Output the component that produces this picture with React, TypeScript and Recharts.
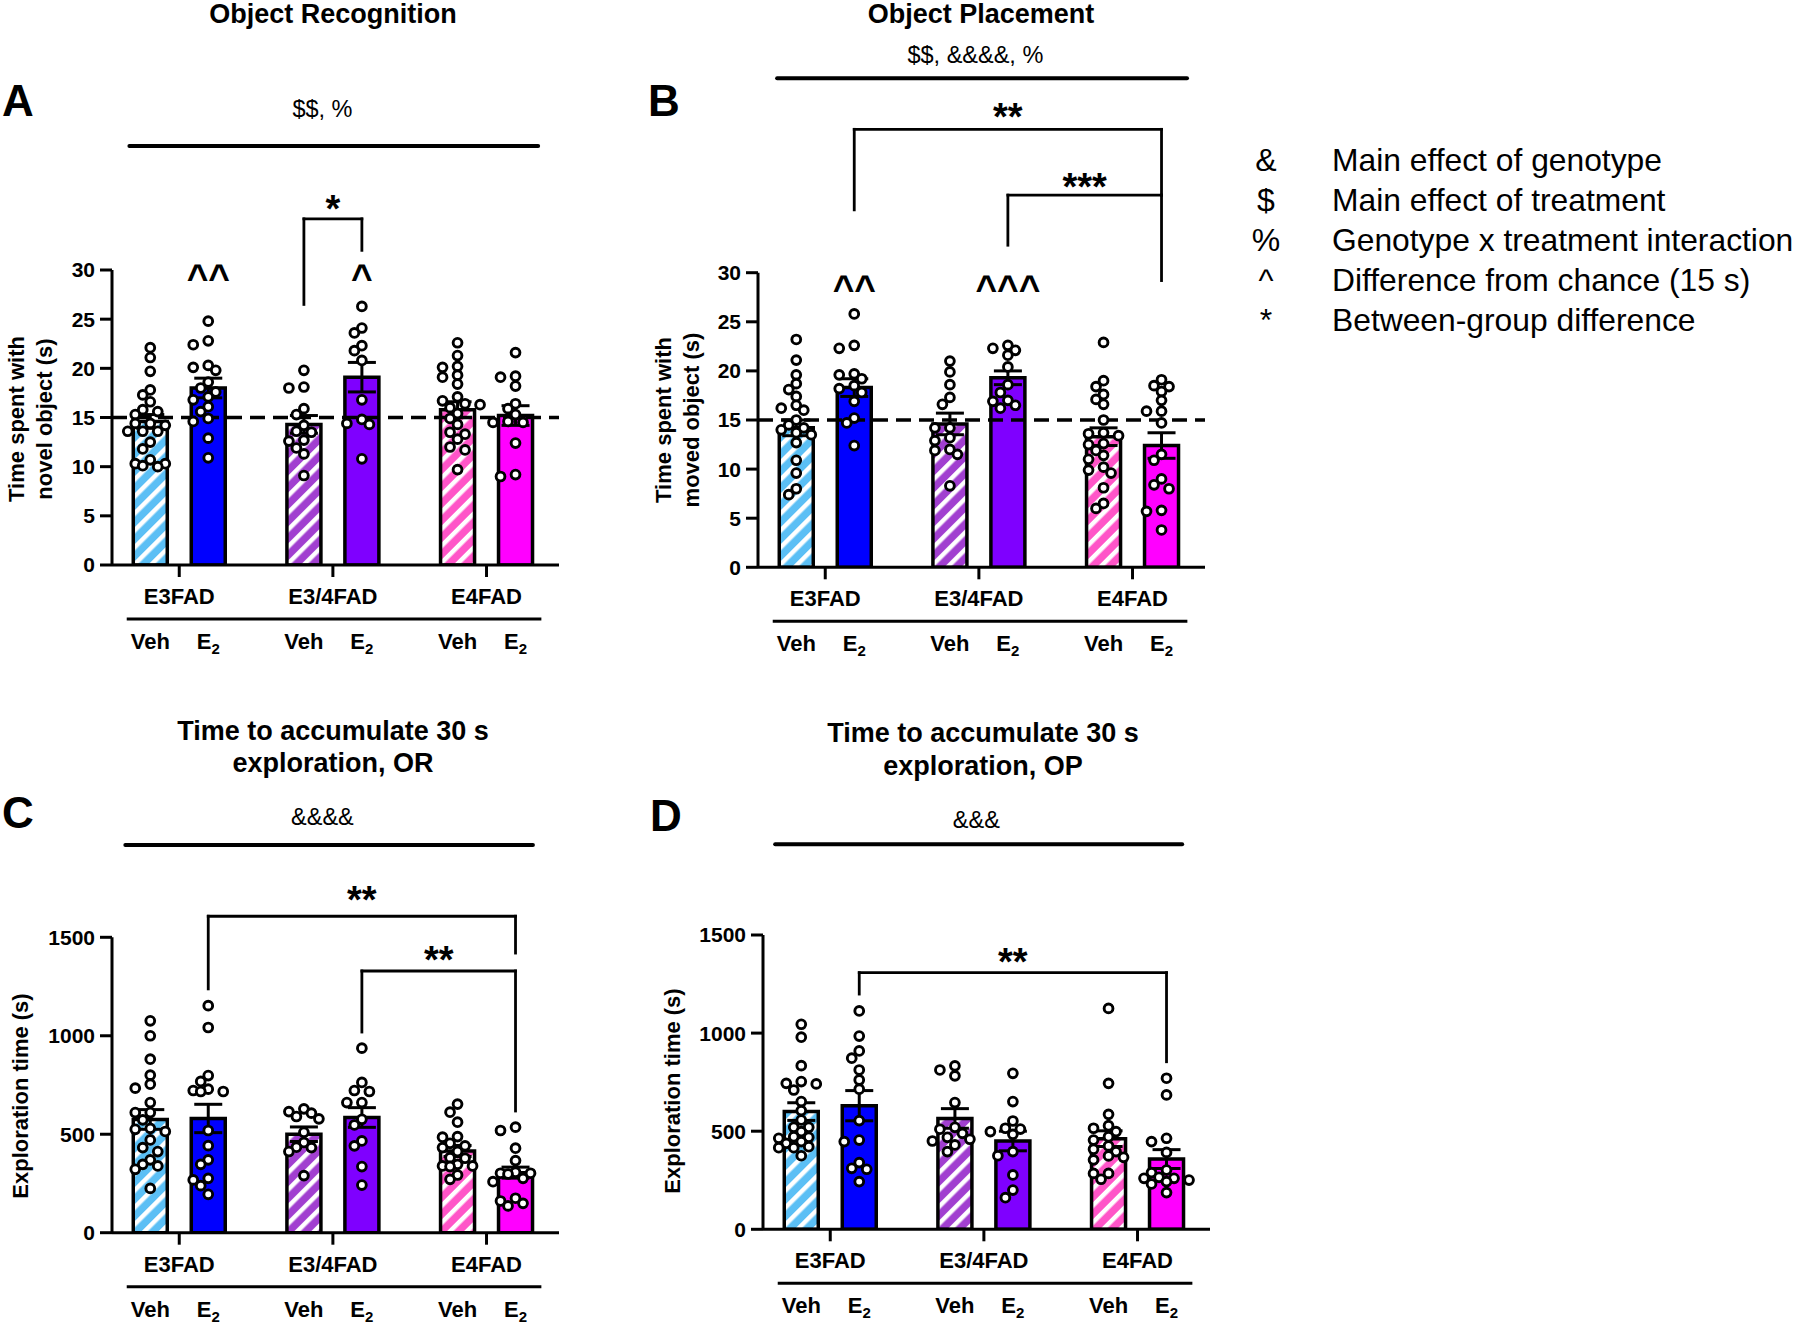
import React from 'react';
import {
  ComposedChart,
  Bar,
  Cell,
  ErrorBar,
  Scatter,
  XAxis,
  YAxis,
  ReferenceLine,
  ReferenceDot,
} from 'recharts';

const FONT = '"Liberation Sans", Arial, Helvetica, sans-serif';

const GENOTYPES = ['E3FAD', 'E3/4FAD', 'E4FAD'];
const TREATMENTS = ['Veh', 'E2'];
const BAR_COLORS = ['#5bbff5', '#0000ff', '#a13fd0', '#7f00ff', '#ff55c8', '#ff00ff'];
const HATCHED = [true, false, true, false, true, false];

// A - object recognition, time with novel object (s)
const OR_MEAN = [14.6, 18.0, 14.3, 19.1, 15.8, 15.2];
const OR_SEM = [0.7, 1.0, 0.9, 1.5, 0.8, 1.0];
const OR_POINTS = [
  [22.1, 21.1, 19.7, 17.8, 17.3, 16.6, 15.8, 15.6, 15.3, 14.4, 14.4, 14.2, 13.6, 13.6, 13.6, 12.5, 11.8, 10.7, 10.3, 10.3, 10.1, 10.0],
  [24.8, 22.8, 22.4, 20.3, 20.1, 19.8, 18.6, 18.0, 17.6, 17.1, 16.8, 16.1, 15.6, 14.9, 14.6, 12.9, 10.9],
  [19.8, 18.1, 18.0, 15.9, 15.3, 14.2, 13.6, 13.5, 12.7, 12.6, 11.9, 11.3, 9.1],
  [26.3, 24.1, 23.6, 22.3, 21.8, 20.8, 16.8, 14.8, 14.4, 14.3, 10.8],
  [22.6, 21.3, 20.2, 20.1, 19.3, 19.1, 18.4, 17.1, 16.7, 16.4, 16.3, 16.0, 15.4, 14.9, 14.3, 13.5, 13.3, 12.8, 12.0, 11.7, 9.7],
  [21.6, 19.2, 19.1, 18.2, 16.4, 15.9, 15.3, 14.6, 14.5, 14.5, 12.4, 9.2, 9.0],
];

// B - object placement, time with moved object (s)
const OP_MEAN = [14.2, 18.3, 14.6, 19.3, 13.3, 12.4];
const OP_SEM = [0.8, 0.9, 1.1, 0.7, 0.9, 1.3];
const OP_POINTS = [
  [23.2, 21.1, 19.6, 18.7, 18.1, 17.4, 16.5, 16.2, 16.0, 15.0, 14.5, 14.2, 14.0, 13.7, 13.5, 12.7, 10.9, 9.6, 8.0, 7.4],
  [25.8, 22.6, 22.3, 19.7, 19.6, 19.2, 18.5, 18.2, 17.8, 16.9, 15.2, 14.7, 12.4],
  [21.0, 19.9, 18.6, 17.3, 16.6, 14.2, 14.2, 13.2, 12.9, 12.0, 11.9, 11.5, 8.3],
  [22.6, 22.3, 22.1, 21.6, 20.4, 18.6, 17.8, 17.0, 16.9, 16.5, 16.2],
  [22.9, 19.0, 18.4, 17.6, 17.1, 16.6, 15.0, 13.7, 13.6, 13.4, 12.6, 12.5, 11.9, 11.4, 11.0, 10.2, 9.9, 9.6, 8.1, 6.5, 6.0],
  [19.1, 18.5, 18.4, 17.9, 17.0, 15.9, 15.9, 14.7, 11.5, 10.9, 9.0, 8.4, 8.0, 5.8, 5.7, 3.8],
];

// C - time to accumulate 30 s exploration, OR
const OR_TIME_MEAN = [575, 580, 500, 585, 415, 305];
const OR_TIME_SEM = [50, 72, 37, 50, 28, 28];
const OR_TIME_POINTS = [
  [1076, 1000, 881, 800, 754, 734, 661, 610, 610, 573, 530, 525, 514, 471, 432, 412, 370, 347, 339, 322, 225],
  [1153, 1042, 798, 768, 729, 722, 717, 717, 519, 442, 370, 347, 276, 268, 239, 195],
  [629, 615, 607, 590, 578, 510, 458, 434, 432, 412, 290],
  [937, 763, 722, 717, 661, 661, 576, 547, 466, 441, 336, 242],
  [653, 612, 561, 488, 485, 454, 441, 432, 412, 381, 378, 347, 339, 339, 336, 293, 271],
  [536, 519, 429, 366, 307, 302, 302, 298, 276, 259, 175, 161, 149, 136],
];

// D - time to accumulate 30 s exploration, OP
const OP_TIME_MEAN = [600, 630, 565, 450, 462, 358];
const OP_TIME_SEM = [45, 77, 50, 50, 40, 48];
const OP_TIME_POINTS = [
  [1045, 979, 834, 753, 744, 741, 710, 651, 605, 557, 520, 520, 498, 472, 469, 464, 447, 438, 421, 416, 416, 375],
  [1113, 985, 909, 872, 812, 761, 714, 554, 455, 447, 340, 311, 306, 243],
  [833, 812, 782, 646, 520, 510, 489, 469, 459, 450, 430, 396],
  [795, 651, 552, 515, 511, 498, 484, 396, 375, 277, 200, 161],
  [1126, 744, 586, 528, 515, 498, 472, 455, 425, 408, 396, 374, 367, 354, 285, 285, 255],
  [770, 685, 464, 447, 392, 302, 289, 265, 260, 260, 251, 243, 231, 187],
];

const LEGEND = [
  ['&', 'Main effect of genotype'],
  ['$', 'Main effect of treatment'],
  ['%', 'Genotype x treatment interaction'],
  ['^', 'Difference from chance (15 s)'],
  ['*', 'Between-group difference'],
];

const GROUP_GAP = 2.65;
const X_DOMAIN: [number, number] = [-0.66, 7.05];
const PLOT_W = 447;
const UNIT_PX = PLOT_W / (X_DOMAIN[1] - X_DOMAIN[0]);
const BAR_POS = [0, 1, 2, 3, 4, 5].map((i) => Math.floor(i / 2) * GROUP_GAP + (i % 2));
const GROUP_POS = [0, 1, 2].map((g) => g * GROUP_GAP + 0.5);

// simple beeswarm, columns every 7.5px, at most 3 columns each side
function swarm(values: number[], pxPerUnit: number) {
  const order = values.map((_, i) => i).sort((a, b) => values[b] - values[a]);
  const placed: { dx: number; y: number }[] = [];
  const offs = new Array(values.length).fill(0);
  for (const i of order) {
    const y = values[i] * pxPerUnit;
    let best = 0;
    let bestGap = -1;
    for (const k of [0, -1, 1, -2, 2, -3, 3]) {
      const dx = k * 7.5;
      const gap = placed.length ? Math.min(...placed.map((p) => Math.hypot(p.dx - dx, p.y - y))) : 99;
      if (gap >= 8.6) {
        best = dx;
        bestGap = gap;
        break;
      }
      if (gap > bestGap) {
        bestGap = gap;
        best = dx;
      }
    }
    placed.push({ dx: best, y });
    offs[i] = best / UNIT_PX;
  }
  return offs;
}

type Bracket = { from: number; to: number; y: number; y1: number; y2: number; text: string; ty: number };
type Caret = { bar: number; text: string; y: number };

interface PanelProps {
  left: number;
  top: number;
  height: number;
  plotTop: number;
  plotBottom: number;
  yMax: number;
  yTicks: number[];
  mean: number[];
  sem: number[];
  points: number[][];
  header: { x1: number; x2: number; y: number; text: string; tx: number; ty: number };
  brackets: Bracket[];
  carets: Caret[];
  chance?: number;
}

const GroupTick = (props: any) => {
  const { x, y, payload } = props;
  const g = Math.round((payload.value - 0.5) / GROUP_GAP);
  return (
    <text x={x} y={y + 27} textAnchor="middle" fontSize={22} fontWeight={700} fontFamily={FONT} fill="#000">
      {GENOTYPES[g]}
    </text>
  );
};

const TreatTick = (props: any) => {
  const { x, y, payload } = props;
  const i = BAR_POS.findIndex((b) => Math.abs(b - payload.value) < 0.01);
  const isE2 = TREATMENTS[i % 2] === 'E2';
  return (
    <text x={x} y={y + 30} textAnchor="middle" fontSize={22} fontWeight={700} fontFamily={FONT} fill="#000">
      {isE2 ? (
        <>
          <tspan>E</tspan>
          <tspan fontSize={15} dy={5}>2</tspan>
        </>
      ) : (
        'Veh'
      )}
    </text>
  );
};

const Dot = (props: any) => (
  <circle cx={props.cx} cy={props.cy} r={4.4} fill="#fff" stroke="#000" strokeWidth={2.9} />
);

function Panel(p: PanelProps) {
  const plotH = p.plotBottom - p.plotTop;
  const pxPerUnit = plotH / p.yMax;
  const bars = p.mean.map((m, i) => ({ x: BAR_POS[i], mean: m, sem: p.sem[i] }));
  const dots = p.points.flatMap((vals, i) => {
    const o = swarm(vals, pxPerUnit);
    return vals.map((v, j) => ({ x: BAR_POS[i] + o[j], v }));
  });
  const marginTop = p.plotTop - p.top;
  const marginBottom = p.height - marginTop - plotH - 92;
  const sepY = -54 / pxPerUnit;
  const line = { stroke: '#000', strokeWidth: 2.8, strokeLinecap: 'square' as const, ifOverflow: 'visible' as const };
  const starLabel = (text: string, size: number, bold: boolean) => ({
    value: text,
    position: 'center' as const,
    fill: '#000',
    fontSize: size,
    fontWeight: bold ? 700 : 400,
    fontFamily: FONT,
  });

  return (
    <div style={{ position: 'absolute', left: p.left, top: p.top }}>
      <ComposedChart
        width={600}
        height={p.height}
        data={bars}
        margin={{ top: marginTop, right: 41, bottom: marginBottom, left: 12 }}
      >
        <XAxis
          xAxisId={0}
          dataKey="x"
          type="number"
          domain={X_DOMAIN}
          allowDataOverflow
          ticks={GROUP_POS}
          interval={0}
          height={54}
          tickSize={12}
          tickMargin={0}
          axisLine={{ stroke: '#000', strokeWidth: 3 }}
          tickLine={{ stroke: '#000', strokeWidth: 3 }}
          tick={<GroupTick />}
        />
        <XAxis
          xAxisId="trt"
          dataKey="x"
          type="number"
          domain={X_DOMAIN}
          allowDataOverflow
          ticks={BAR_POS}
          interval={0}
          height={38}
          tickSize={0}
          tickMargin={0}
          axisLine={false}
          tickLine={false}
          tick={<TreatTick />}
        />
        <YAxis
          type="number"
          domain={[0, p.yMax]}
          allowDataOverflow
          ticks={p.yTicks}
          interval={0}
          width={100}
          tickSize={12}
          tickMargin={5}
          axisLine={{ stroke: '#000', strokeWidth: 3 }}
          tickLine={{ stroke: '#000', strokeWidth: 3 }}
          tick={{ fill: '#000', fontSize: 21, fontWeight: 700, fontFamily: FONT }}
        />
        <Bar dataKey="mean" barSize={34} stroke="#000" strokeWidth={3.5} isAnimationActive={false}>
          {bars.map((_, i) => (
            <Cell key={i} fill={HATCHED[i] ? `url(#hatch${i})` : BAR_COLORS[i]} />
          ))}
          <ErrorBar dataKey="sem" width={14} stroke="#000" strokeWidth={3} direction="y" />
        </Bar>
        {p.chance !== undefined && (
          <ReferenceLine y={p.chance} stroke="#000" strokeWidth={3.5} strokeDasharray="15 8" />
        )}
        <Scatter xAxisId="trt" data={dots} dataKey="v" shape={<Dot />} isAnimationActive={false} />

        {/* group separator line under genotype labels */}
        <ReferenceLine segment={[{ x: -0.38, y: sepY }, { x: 6.72, y: sepY }]} {...line} strokeWidth={3} />

        {/* header line with ANOVA effects */}
        <ReferenceLine
          segment={[{ x: p.header.x1, y: p.header.y }, { x: p.header.x2, y: p.header.y }]}
          {...line}
          strokeWidth={4}
          strokeLinecap="round"
        />
        <ReferenceDot
          x={p.header.tx}
          y={p.header.ty}
          r={0.01}
          fill="none"
          stroke="none"
          ifOverflow="visible"
          label={starLabel(p.header.text, 23.5, false)}
        />

        {p.brackets.map((b, k) => [
          <ReferenceLine
            key={`h${k}`}
            segment={[{ x: BAR_POS[b.from], y: b.y }, { x: BAR_POS[b.to], y: b.y }]}
            {...line}
          />,
          <ReferenceLine
            key={`l${k}`}
            segment={[{ x: BAR_POS[b.from], y: b.y }, { x: BAR_POS[b.from], y: b.y1 }]}
            {...line}
          />,
          <ReferenceLine
            key={`r${k}`}
            segment={[{ x: BAR_POS[b.to], y: b.y }, { x: BAR_POS[b.to], y: b.y2 }]}
            {...line}
          />,
          <ReferenceDot
            key={`t${k}`}
            x={(BAR_POS[b.from] + BAR_POS[b.to]) / 2}
            y={b.ty}
            r={0.01}
            fill="none"
            stroke="none"
            ifOverflow="visible"
            label={starLabel(b.text, 38, true)}
          />,
        ])}

        {p.carets.map((c, k) => (
          <ReferenceDot
            key={`c${k}`}
            x={BAR_POS[c.bar]}
            y={c.y}
            r={0.01}
            fill="none"
            stroke="none"
            ifOverflow="visible"
            label={starLabel(c.text, 37, true)}
          />
        ))}
      </ComposedChart>
    </div>
  );
}

const textAt = (x: number, y: number, style: React.CSSProperties, content: React.ReactNode, key?: string) => (
  <div
    key={key}
    style={{
      position: 'absolute',
      left: x,
      top: y,
      transform: 'translate(-50%, -50%)',
      whiteSpace: 'nowrap',
      fontFamily: FONT,
      color: '#000',
      ...style,
    }}
  >
    {content}
  </div>
);

const yLabel = (x: number, y: number, lines: string[]) => (
  <div
    style={{
      position: 'absolute',
      left: x,
      top: y,
      transform: 'translate(-50%, -50%) rotate(-90deg)',
      whiteSpace: 'nowrap',
      fontFamily: FONT,
      fontWeight: 700,
      fontSize: 22,
      lineHeight: '28px',
      textAlign: 'center',
      color: '#000',
    }}
  >
    {lines.map((l) => (
      <div key={l}>{l}</div>
    ))}
  </div>
);

export default function App() {
  const title = { fontSize: 27, fontWeight: 700 };
  const letter = { fontSize: 44, fontWeight: 700 };
  return (
    <div
      style={{
        position: 'absolute',
        left: 0,
        top: 0,
        width: 1800,
        height: 1326,
        overflow: 'hidden',
        background: '#fff',
        fontFamily: FONT,
      }}
    >
      <svg width={0} height={0} style={{ position: 'absolute' }}>
        <defs>
          {BAR_COLORS.map((c, i) =>
            HATCHED[i] ? (
              <pattern
                key={i}
                id={`hatch${i}`}
                width={12}
                height={12}
                patternUnits="userSpaceOnUse"
                patternTransform="rotate(45)"
              >
                <rect width={12} height={12} fill={c} />
                <rect width={4.5} height={12} fill="#fff" />
              </pattern>
            ) : null
          )}
        </defs>
      </svg>

      {textAt(333, 14, title, 'Object Recognition')}
      {textAt(981, 14, title, 'Object Placement')}
      {textAt(333, 731, title, 'Time to accumulate 30 s')}
      {textAt(333, 763, title, 'exploration, OR')}
      {textAt(983, 733, title, 'Time to accumulate 30 s')}
      {textAt(983, 766, title, 'exploration, OP')}

      {textAt(18, 101, letter, 'A')}
      {textAt(664, 101, letter, 'B')}
      {textAt(18, 813, letter, 'C')}
      {textAt(666, 816, letter, 'D')}

      {yLabel(31, 419, ['Time spent with', 'novel object (s)'])}
      {yLabel(678, 420, ['Time spent with', 'moved object (s)'])}
      {yLabel(21, 1096, ['Exploration time (s)'])}
      {yLabel(673, 1091, ['Exploration time (s)'])}

      <Panel
        left={0}
        top={0}
        height={680}
        plotTop={270}
        plotBottom={565}
        yMax={30}
        yTicks={[0, 5, 10, 15, 20, 25, 30]}
        mean={OR_MEAN}
        sem={OR_SEM}
        points={OR_POINTS}
        chance={15}
        header={{ x1: -0.36, x2: 6.69, y: 42.6, text: '$$, %', tx: 2.97, ty: 46.4 }}
        brackets={[{ from: 2, to: 3, y: 35.2, y1: 26.5, y2: 32.0, text: '*', ty: 36.3 }]}
        carets={[
          { bar: 1, text: '^^', y: 29.3 },
          { bar: 3, text: '^', y: 29.3 },
        ]}
      />
      <Panel
        left={646}
        top={0}
        height={680}
        plotTop={272.7}
        plotBottom={567.3}
        yMax={30}
        yTicks={[0, 5, 10, 15, 20, 25, 30]}
        mean={OP_MEAN}
        sem={OP_SEM}
        points={OP_POINTS}
        chance={15}
        header={{ x1: -0.33, x2: 6.74, y: 49.8, text: '$$, &&&&, %', tx: 3.09, ty: 52.2 }}
        brackets={[
          { from: 1, to: 5, y: 44.6, y1: 36.4, y2: 37.9, text: '**', ty: 45.9 },
          { from: 3, to: 5, y: 37.9, y1: 32.8, y2: 29.2, text: '***', ty: 38.8 },
        ]}
        carets={[
          { bar: 1, text: '^^', y: 28.5 },
          { bar: 3, text: '^^^', y: 28.5 },
        ]}
      />
      <Panel
        left={0}
        top={660}
        height={666}
        plotTop={937.3}
        plotBottom={1232.7}
        yMax={1500}
        yTicks={[0, 500, 1000, 1500]}
        mean={OR_TIME_MEAN}
        sem={OR_TIME_SEM}
        points={OR_TIME_POINTS}
        header={{ x1: -0.43, x2: 6.6, y: 1969, text: '&&&&', tx: 2.97, ty: 2111 }}
        brackets={[
          { from: 1, to: 5, y: 1607, y1: 1238, y2: 1420, text: '**', ty: 1694 },
          { from: 3, to: 5, y: 1329, y1: 1019, y2: 618, text: '**', ty: 1385 },
        ]}
        carets={[]}
      />
      <Panel
        left={651}
        top={660}
        height={666}
        plotTop={935}
        plotBottom={1229.3}
        yMax={1500}
        yTicks={[0, 500, 1000, 1500]}
        mean={OP_TIME_MEAN}
        sem={OP_TIME_SEM}
        points={OP_TIME_POINTS}
        header={{ x1: -0.45, x2: 6.57, y: 1963, text: '&&&', tx: 3.02, ty: 2086 }}
        brackets={[{ from: 1, to: 5, y: 1308, y1: 1199, y2: 854, text: '**', ty: 1367 }]}
        carets={[]}
      />

      {LEGEND.map(([sym, txt], i) => (
        <React.Fragment key={sym}>
          {textAt(1266, 160 + i * 40, { fontSize: 32 }, sym)}
          <div
            style={{
              position: 'absolute',
              left: 1332,
              top: 160 + i * 40,
              transform: 'translateY(-50%)',
              whiteSpace: 'nowrap',
              fontSize: 31.8,
              fontFamily: FONT,
              color: '#000',
            }}
          >
            {txt}
          </div>
        </React.Fragment>
      ))}
    </div>
  );
}
